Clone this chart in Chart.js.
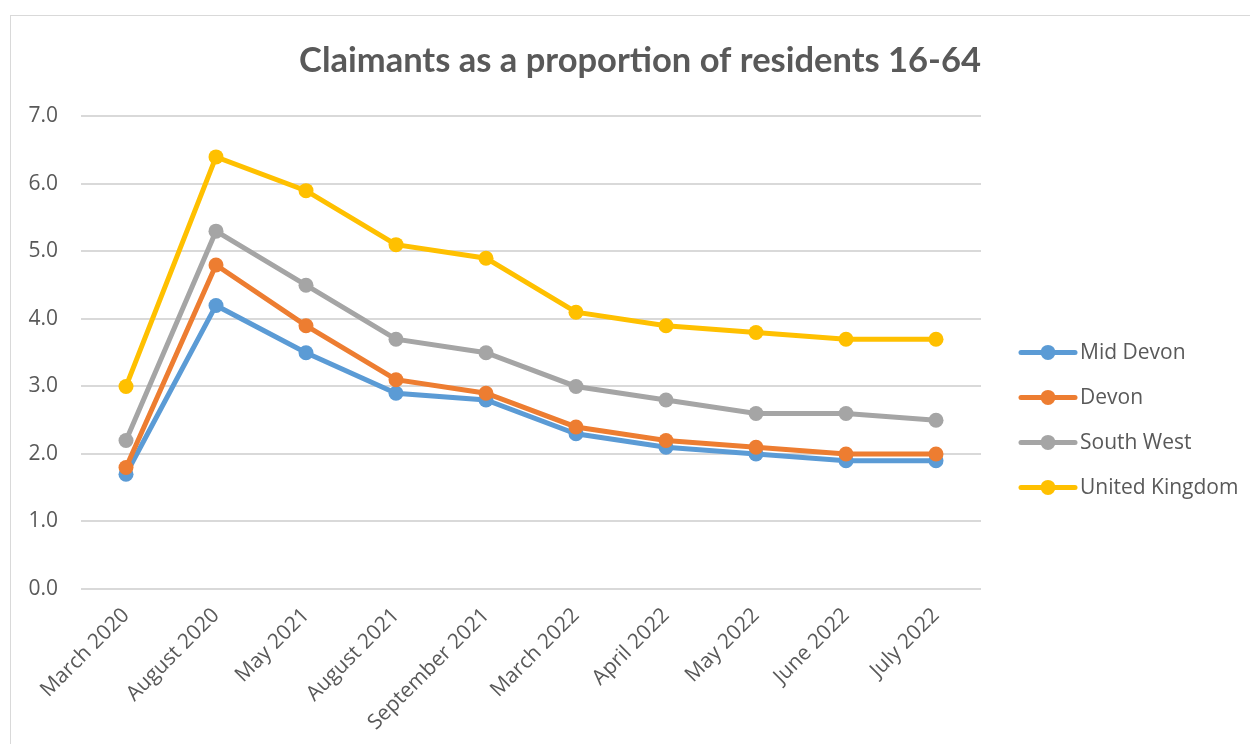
<!DOCTYPE html>
<html>
<head>
<meta charset="utf-8">
<script src="https://cdn.jsdelivr.net/npm/chart.js@4/dist/chart.umd.min.js"></script>
<style>
  html, body { margin: 0; padding: 0; background: #fff; overflow: hidden; }
  #wrap {
    position: absolute; left: 10px; top: 15px;
    width: 1252px; height: 760px;
    border: 1px solid #d9d9d9;
    box-sizing: border-box;
  }
</style>
</head>
<body>
<div id="wrap"><canvas id="claimants"></canvas></div>
<script>
const months = ["March 2020", "August 2020", "May 2021", "August 2021", "September 2021",
                "March 2022", "April 2022", "May 2022", "June 2022", "July 2022"];
const midDevon   = [1.7, 4.2, 3.5, 2.9, 2.8, 2.3, 2.1, 2.0, 1.9, 1.9];
const devon      = [1.8, 4.8, 3.9, 3.1, 2.9, 2.4, 2.2, 2.1, 2.0, 2.0];
const southWest  = [2.2, 5.3, 4.5, 3.7, 3.5, 3.0, 2.8, 2.6, 2.6, 2.5];
const unitedKingdom = [3.0, 6.4, 5.9, 5.1, 4.9, 4.1, 3.9, 3.8, 3.7, 3.7];

const textColor = "#595959";
const titleFont = "Lato, 'Noto Sans', sans-serif";
const bodyFont = "'Open Sans', 'Noto Sans', sans-serif";

function makeSeries(label, data, color, order) {
  return {
    label: label,
    data: data,
    borderColor: color,
    backgroundColor: color,
    borderWidth: 5,
    pointRadius: 7.5,
    pointHoverRadius: 7.5,
    pointBorderWidth: 0,
    tension: 0,
    order: order
  };
}

// legend drawn as line + dot, like the office chart
const sideLegend = {
  id: "sideLegend",
  afterDraw(chart) {
    const ctx = chart.ctx;
    const area = chart.chartArea;
    const x0 = area.right + 40;
    let y = area.top + 236;
    ctx.save();
    ctx.font = "21px " + bodyFont;
    ctx.textBaseline = "middle";
    chart.data.datasets.forEach(function (ds) {
      ctx.strokeStyle = ds.borderColor;
      ctx.lineWidth = 5;
      ctx.lineCap = "round";
      ctx.beginPath();
      ctx.moveTo(x0, y);
      ctx.lineTo(x0 + 54, y);
      ctx.stroke();
      ctx.fillStyle = ds.borderColor;
      ctx.beginPath();
      ctx.arc(x0 + 27, y, 7.5, 0, Math.PI * 2);
      ctx.fill();
      ctx.fillStyle = textColor;
      ctx.fillText(ds.label, x0 + 59, y + 1);
      y += 45;
    });
    ctx.restore();
  }
};

const ctx = document.getElementById("claimants").getContext("2d");
new Chart(ctx, {
  type: "line",
  data: {
    labels: months,
    datasets: [
      makeSeries("Mid Devon", midDevon, "#5B9BD5", 4),
      makeSeries("Devon", devon, "#ED7D31", 3),
      makeSeries("South West", southWest, "#A5A5A5", 2),
      makeSeries("United Kingdom", unitedKingdom, "#FFC000", 1)
    ]
  },
  options: {
    responsive: true,
    maintainAspectRatio: false,
    animation: false,
    layout: { padding: { left: 10, right: 280, top: 0, bottom: 0 } },
    plugins: {
      legend: { display: false },
      tooltip: { enabled: false },
      title: {
        display: true,
        align: "end",
        text: "Claimants as a proportion of residents 16-64",
        color: textColor,
        font: { family: titleFont, size: 34.5, weight: "bold" },
        padding: { top: 24, bottom: 35 }
      }
    },
    scales: {
      y: {
        min: 0,
        max: 7,
        ticks: {
          stepSize: 1,
          color: textColor,
          padding: 23,
          font: { family: bodyFont, size: 21 },
          callback: function (v) { return v.toFixed(1); }
        },
        grid: { color: "#d9d9d9", lineWidth: 2, drawTicks: false },
        border: { display: false },
        afterFit: function (scale) { scale.width = 60; }
      },
      x: {
        offset: true,
        ticks: {
          color: textColor,
          minRotation: 45,
          maxRotation: 45,
          padding: 6,
          font: { family: bodyFont, size: 21 }
        },
        grid: { display: false },
        border: { display: false },
        afterFit: function (scale) { scale.height = 185; }
      }
    }
  },
  plugins: [sideLegend]
});
</script>
</body>
</html>
